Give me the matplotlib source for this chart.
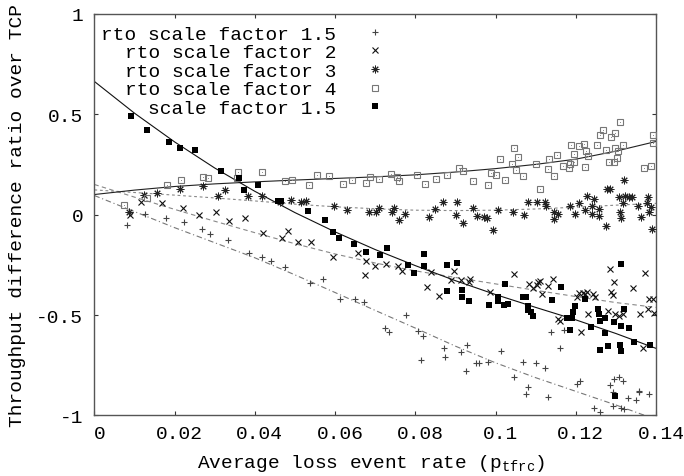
import matplotlib
matplotlib.use("Agg")
import matplotlib.pyplot as plt
import matplotlib.transforms as mtransforms

# ---------------- data ----------------
# rto scale factor 1.5  (+)
rto15_pts = [(0.0081,-0.054),(0.0126,0.004),(0.0178,-0.016),(0.0224,-0.038),(0.0268,-0.071),
             (0.0289,-0.099),(0.0334,-0.126),(0.0386,-0.192),(0.0417,-0.212),(0.0441,-0.232),
             (0.0474,-0.259),(0.0537,-0.342),(0.0569,-0.320),(0.0613,-0.420),(0.0649,-0.420),
             (0.0673,-0.433),(0.0776,-0.498),(0.0725,-0.564),(0.0735,-0.586),(0.0807,-0.582),
             (0.0818,-0.606),(0.0815,-0.723),(0.0872,-0.664),(0.0875,-0.710),(0.0914,-0.685),
             (0.0929,-0.647),(0.0927,-0.780),(0.0952,-0.740),(0.0959,-0.740),(0.0982,-0.732),
             (0.1013,-0.680),(0.1047,-0.807),(0.1069,-0.735),(0.1077,-0.893),(0.1082,-0.856),
             (0.1100,-0.738),(0.1123,-0.763),(0.1131,-0.906),(0.1138,-0.586),(0.1160,-0.664),
             (0.1170,-0.574),(0.1203,-0.846),(0.1211,-0.831),(0.1245,-0.963),(0.1261,-0.984),
             (0.1286,-0.848),(0.1292,-0.951),(0.1293,-0.884),(0.1296,-0.818),(0.1308,-0.810),
             (0.1317,-0.827),(0.1320,-0.968),(0.1330,-0.914),(0.1350,-0.921),(0.1357,-0.876),
             (0.1358,-0.884),(0.1383,-0.893),(0.1314,-0.964)]
# rto scale factor 2  (x)
rto2_pts = [(0.0089,-0.001),(0.0116,0.062),(0.0168,0.059),(0.0220,0.032),(0.0261,-0.001),
            (0.0304,0.015),(0.0336,-0.033),(0.0375,-0.016),(0.0421,-0.091),(0.0467,-0.116),
            (0.0482,-0.082),(0.0508,-0.137),(0.0540,-0.137),(0.0596,-0.209),(0.0656,-0.191),
            (0.0674,-0.303),(0.0677,-0.232),(0.0699,-0.254),(0.0727,-0.245),(0.0757,-0.257),
            (0.0766,-0.282),(0.0829,-0.362),(0.0839,-0.287),(0.0860,-0.403),(0.0889,-0.328),
            (0.0897,-0.279),(0.0914,-0.328),(0.0934,-0.336),(0.0936,-0.320),(0.0987,-0.386),
            (0.1047,-0.295),(0.1084,-0.345),(0.1093,-0.366),(0.1103,-0.353),(0.1107,-0.337),
            (0.1111,-0.333),(0.1116,-0.395),(0.1131,-0.356),(0.1144,-0.323),(0.1156,-0.519),
            (0.1161,-0.528),(0.1203,-0.411),(0.1209,-0.390),(0.1213,-0.586),(0.1217,-0.392),
            (0.1222,-0.395),(0.1228,-0.386),(0.1230,-0.497),(0.1244,-0.397),(0.1248,-0.411),
            (0.1280,-0.478),(0.1286,-0.270),(0.1289,-0.383),(0.1294,-0.400),(0.1296,-0.336),
            (0.1298,-0.494),(0.1308,-0.503),(0.1317,-0.494),(0.1343,-0.366),(0.1361,-0.494),
            (0.1367,-0.666),(0.1373,-0.290),(0.1379,-0.469),(0.1383,-0.420),(0.1392,-0.420),
            (0.1394,-0.491)]
# rto scale factor 3  (*)
rto3_pts = [(0.0087,0.015),(0.0124,0.098),(0.0155,0.110),(0.0214,0.127),(0.0272,0.140),
            (0.0307,0.092),(0.0325,0.125),(0.0383,0.095),(0.0419,0.095),(0.0462,0.062),
            (0.0490,0.075),(0.0515,0.062),(0.0527,0.070),(0.0598,0.042),(0.0631,0.025),
            (0.0685,0.012),(0.0702,0.012),(0.0710,0.032),(0.0741,0.012),(0.0747,0.032),
            (0.0760,-0.025),(0.0775,0.002),(0.0833,-0.011),(0.0849,0.027),(0.0870,0.065),
            (0.0905,0.065),(0.0901,0.000),(0.0920,-0.043),(0.0945,0.035),(0.0955,-0.008),
            (0.0972,-0.013),(0.0978,-0.018),(0.0993,-0.076),(0.1005,0.025),(0.1043,0.015),
            (0.1072,-0.001),(0.1080,0.062),(0.1103,0.062),(0.1123,0.062),(0.1127,0.045),
            (0.1146,0.015),(0.1146,-0.021),(0.1156,0.004),(0.1186,0.045),(0.1198,0.004),
            (0.1209,0.059),(0.1228,0.092),(0.1223,0.025),(0.1240,0.004),(0.1246,0.078),
            (0.1240,0.045),(0.1259,0.029),(0.1257,-0.008),(0.1275,-0.059),(0.1278,0.128),
            (0.1286,0.128),(0.1307,0.087),(0.1310,0.015),(0.1313,-0.018),(0.1317,0.059),
            (0.1323,0.092),(0.1321,0.172),(0.1333,0.087),(0.1340,0.087),(0.1354,0.045),
            (0.1363,-0.013),(0.1377,0.059),(0.1381,0.087),(0.1382,0.012),(0.1387,0.037),
            (0.1389,-0.071)]
# rto scale factor 4  (open squares)
rto4_pts = [(0.0074,0.049),(0.0132,0.085),(0.0180,0.148),(0.0217,0.172),(0.0270,0.187),
            (0.0284,0.182),(0.0358,0.211),(0.0355,0.180),(0.0417,0.211),(0.0476,0.165),
            (0.0492,0.173),(0.0534,0.147),(0.0555,0.195),(0.0585,0.190),(0.0620,0.152),
            (0.0642,0.172),(0.0677,0.158),(0.0687,0.188),(0.0709,0.178),(0.0739,0.201),
            (0.0755,0.188),(0.0760,0.167),(0.0805,0.196),(0.0824,0.153),(0.0851,0.177),
            (0.0879,0.198),(0.0909,0.231),(0.0919,0.218),(0.0943,0.168),(0.0982,0.148),
            (0.0988,0.208),(0.1001,0.195),(0.1012,0.278),(0.1023,0.173),(0.1041,0.253),
            (0.1047,0.331),(0.1052,0.220),(0.1055,0.289),(0.1069,0.190),(0.1102,0.251),
            (0.1111,0.128),(0.1132,0.228),(0.1133,0.278),(0.1145,0.193),(0.1154,0.296),
            (0.1169,0.241),(0.1183,0.233),(0.1185,0.250),(0.1187,0.347),(0.1196,0.303),
            (0.1196,0.264),(0.1209,0.343),(0.1220,0.352),(0.1223,0.236),(0.1225,0.319),
            (0.1230,0.294),(0.1252,0.349),(0.1261,0.397),(0.1267,0.422),(0.1275,0.321),
            (0.1282,0.261),(0.1288,0.386),(0.1295,0.264),(0.1297,0.406),(0.1298,0.331),
            (0.1304,0.281),(0.1305,0.316),(0.1311,0.462),(0.1318,0.347),(0.1371,0.233),
            (0.1387,0.244),(0.1392,0.394),(0.1392,0.357)]
# scale factor 1.5  (filled squares)
sf15_pts = [(0.0091,0.490),(0.0132,0.422),(0.0185,0.364),(0.0214,0.333),(0.0251,0.323),
            (0.0315,0.215),(0.0360,0.183),(0.0374,0.125),(0.0409,0.145),(0.0458,0.070),
            (0.0464,0.067),(0.0532,0.019),(0.0575,-0.028),(0.0594,-0.087),(0.0609,-0.116),
            (0.0646,-0.147),(0.0678,-0.187),(0.0712,-0.199),(0.0730,-0.166),(0.0781,-0.249),
            (0.0798,-0.292),(0.0822,-0.195),(0.0822,-0.257),(0.0879,-0.252),(0.0904,-0.242),
            (0.0879,-0.381),(0.0917,-0.373),(0.0917,-0.408),(0.0933,-0.428),(0.0985,-0.448),
            (0.1005,-0.408),(0.1005,-0.428),(0.1020,-0.449),(0.1031,-0.446),(0.1023,-0.345),
            (0.1068,-0.411),(0.1076,-0.411),(0.1080,-0.456),(0.1082,-0.474),(0.1088,-0.486),
            (0.1094,-0.506),(0.1142,-0.423),(0.1163,-0.362),(0.1177,-0.516),(0.1190,-0.516),
            (0.1192,-0.483),(0.1198,-0.453),(0.1186,-0.574),(0.1224,-0.420),(0.1238,-0.558),
            (0.1256,-0.470),(0.1259,-0.494),(0.1260,-0.528),(0.1274,-0.516),(0.1274,-0.590),
            (0.1261,-0.674),(0.1280,-0.652),(0.1295,-0.536),(0.1311,-0.649),(0.1314,-0.680),
            (0.1313,-0.553),(0.1314,-0.245),(0.1320,-0.469),(0.1332,-0.566),(0.1346,-0.632),
            (0.1385,-0.649),(0.1298,-0.901)]

# fitted curves
fit_x = [0.0, 0.01, 0.02, 0.03, 0.04, 0.05, 0.06, 0.07, 0.08, 0.09, 0.10, 0.11, 0.12, 0.13, 0.14]
fit_rto15_y = [0.095, 0.015, -0.065, -0.140, -0.215, -0.300, -0.388, -0.477, -0.565, -0.655,
               -0.738, -0.812, -0.880, -0.948, -1.02]
fit_rto2_y = [0.150, 0.087, 0.026, -0.033, -0.090, -0.145, -0.196, -0.241, -0.280, -0.313,
              -0.345, -0.377, -0.408, -0.438, -0.462]
fit_rto3_y = [0.123, 0.110, 0.097, 0.083, 0.068, 0.052, 0.039, 0.029, 0.022, 0.020,
              0.022, 0.028, 0.037, 0.047, 0.056]
fit_rto4_y = [0.100, 0.122, 0.140, 0.153, 0.163, 0.172, 0.180, 0.188, 0.198, 0.212,
              0.229, 0.250, 0.276, 0.316, 0.364]
fit_sf15_y = [0.663, 0.505, 0.362, 0.232, 0.116, 0.010, -0.086, -0.174, -0.254, -0.329,
              -0.398, -0.462, -0.524, -0.592, -0.666]

labels = ["rto scale factor 1.5", "rto scale factor 2", "rto scale factor 3",
          "rto scale factor 4", "scale factor 1.5"]
xticks = [0, 0.02, 0.04, 0.06, 0.08, 0.1, 0.12, 0.14]
xticklabels = ["0", "0.02", "0.04", "0.06", "0.08", "0.1", "0.12", "0.14"]
yticks = [-1, -0.5, 0, 0.5, 1]
yticklabels = ["-1", "-0.5", "0", "0.5", "1"]

# ---------------- plotting ----------------
FS = 14
plt.rcParams['font.family'] = ['Liberation Mono', 'DejaVu Sans Mono']
plt.rcParams['font.size'] = FS

fig = plt.figure(figsize=(6.84, 4.77), dpi=100)
ax = fig.add_axes([0.138, 0.127, 0.821, 0.842])

def xy(pts):
    return [p[0] for p in pts], [p[1] for p in pts]

# fit lines
ax.plot(fit_x, fit_rto15_y, color='#777777', lw=0.8, dashes=(5, 2.5, 1, 2.5), zorder=2)
ax.plot(fit_x, fit_rto2_y, color='#888888', lw=0.8, dashes=(4, 3), zorder=2)
ax.plot(fit_x, fit_rto3_y, color='#888888', lw=0.8, dashes=(2.5, 2.5), zorder=2)
ax.plot(fit_x, fit_rto4_y, color='#222222', lw=0.8, zorder=2)
ax.plot(fit_x, fit_sf15_y, color='#111111', lw=0.8, zorder=2)

x, y = xy(rto15_pts)
h1, = ax.plot(x, y, ls='none', marker='+', ms=5, mew=0.8, color='#444444', zorder=3)
x, y = xy(rto2_pts)
h2, = ax.plot(x, y, ls='none', marker='x', ms=4.5, mew=0.8, color='#111111', zorder=3)
x, y = xy(rto3_pts)
h3, = ax.plot(x, y, ls='none', marker=(8, 2, 0), ms=5.5, mew=0.7, color='#222222', zorder=3)
x, y = xy(rto4_pts)
h4, = ax.plot(x, y, ls='none', marker='s', ms=4.2, mew=0.8, mfc='none', mec='#777777', zorder=3)
ax.plot(x, y, ls='none', marker='s', ms=0.6, mew=0, color='#888888', zorder=3)
x, y = xy(sf15_pts)
h5, = ax.plot(x, y, ls='none', marker='s', ms=4.0, mew=0, color='black', zorder=4)

ax.set_xlim(0, 0.14)
ax.set_ylim(-1, 1)
ax.set_xticks(xticks)
ax.set_xticklabels(xticklabels)
ax.set_yticks(yticks)
ax.set_yticklabels(yticklabels)
ax.tick_params(direction='in', length=3, width=0.8, top=True, right=True,
               color='#333333', labelsize=FS)
ax.tick_params(axis='x', pad=7)
ax.tick_params(axis='y', pad=8)
for s in ax.spines.values():
    s.set_color('#555555')
    s.set_linewidth(1.0)

offset = mtransforms.ScaledTranslation(5 / 100, 0, fig.dpi_scale_trans)
for lab in ax.get_xticklabels():
    lab.set_transform(lab.get_transform() + offset)

ax.set_xlabel(r'Average loss event rate (p$_{\mathregular{tfrc}}$)')
ax.xaxis.set_label_coords(0.4924, -0.092)
ax.set_ylabel('Throughput difference ratio over TCP')
ax.yaxis.set_label_coords(-0.121, 0.5)

leg = ax.legend([h1, h2, h3, h4, h5], labels, loc='upper right',
                bbox_to_anchor=(0.535, 0.972), frameon=False, markerfirst=False,
                numpoints=1, handlelength=2.0, handletextpad=1.0, labelspacing=0.05,
                borderpad=0, borderaxespad=0, fontsize=FS)

fig.savefig('out.png', dpi=100)
